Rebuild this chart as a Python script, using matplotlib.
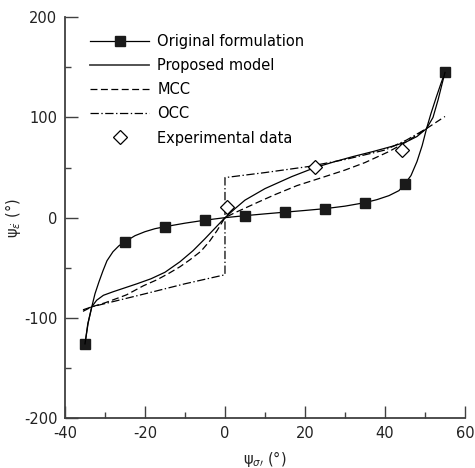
import matplotlib
matplotlib.use("Agg")
import matplotlib.pyplot as plt
from matplotlib.ticker import MultipleLocator

plt.rcParams['font.family'] = ['DejaVu Sans']
plt.rcParams['mathtext.fontset'] = 'dejavusans'
plt.rcParams['lines.scale_dashes'] = False
plt.rcParams['axes.unicode_minus'] = False

# Original formulation: computed points (markers) and its fitted curve
orig_x = [-35, -25, -15, -5, 5, 15, 25, 35, 45, 55]
orig_y = [-126, -24, -9, -2.5, 2, 5.5, 9, 15, 34, 145]
orig_curve_x = [-35, -34.2, -33.3, -32.5, -31.5, -30.5, -29.5, -28, -26.5, -25,
                -22.5, -20, -17.5, -15, -10, -5, 0, 5, 10, 15, 20, 25, 30, 35,
                38, 41, 43.5, 45, 46.5, 48, 49.3, 50.4, 51.5, 52.8, 54, 55]
orig_curve_y = [-126, -105, -89, -76, -64, -53, -43, -34, -28, -24,
                -18, -14, -11, -9, -5.5, -2.5, 0, 2, 3.8, 5.5, 7.2, 9, 11.5, 15,
                18, 22, 27, 34, 42, 56, 72, 89, 104, 120, 134, 145]

# Proposed model
prop_x = [-35, -34.3, -33.3, -32.1, -30.4, -28, -25, -22, -18.5, -15, -11.25,
          -8, -5, -2.5, 0, 2.5, 5, 10, 16.7, 22.5, 27.5, 32, 37, 42.5, 45.5,
          48, 50.4, 52, 53.3, 54.3, 55]
prop_y = [-126, -106, -89, -82.5, -77.5, -74, -70, -66, -61, -54.5, -44,
          -33, -21, -10.5, 0, 9, 17.5, 29, 41, 50, 56, 61, 66, 72, 76,
          81, 89, 100, 118, 134, 145]

# MCC
mcc_x = [-35.5, -33.3, -30, -26.25, -24.6, -20.4, -17, -14, -11.25, -8.75,
         -6, -3.75, -2, 0, 2.5, 5, 8, 12.5, 18, 25, 30, 35, 41, 45.5, 50.4, 55]
mcc_y = [-93.5, -89, -85, -79.5, -77, -68, -62, -55.5, -49, -42,
         -33.5, -23, -13, 0, 5, 9.5, 15, 23, 32, 41, 47.5, 55, 66, 76, 89, 101]

# OCC
occ_x = [-35.5, -33.3, -20, -10, 0, 0, 10, 20.8, 30, 40, 45.4, 50.4]
occ_y = [-92, -89, -76, -66, -57, 40, 45, 51, 58, 67.5, 77.5, 89]

# Experimental data
exp_x = [0.4, 22.5, 44.2]
exp_y = [11, 51, 67.5]

xticks = [-40, -20, 0, 20, 40, 60]
yticks = [-200, -100, 0, 100, 200]

fs = 10.5
fig = plt.figure(figsize=(4.75, 4.68), dpi=100)
ax = fig.add_axes([0.1368, 0.1068, 0.8421, 0.8562])

lw = 0.9
ax.plot(orig_curve_x, orig_curve_y, color='black', lw=lw)
ax.plot(orig_x, orig_y, ls='none', marker='s', ms=7, color='#1a1a1a')
ax.plot(prop_x, prop_y, color='black', lw=lw)
ax.plot(mcc_x, mcc_y, color='black', lw=lw, dashes=(5, 2.5))
ax.plot(occ_x, occ_y, color='black', lw=lw, dashes=(6, 1.8, 1, 1.8))
ax.plot(exp_x, exp_y, ls='none', marker='D', ms=7, mfc='white', mec='black', mew=0.9)

# legend proxies
h1, = ax.plot([], [], color='black', lw=lw, marker='s', ms=7, mfc='#1a1a1a', mec='#1a1a1a')
h2, = ax.plot([], [], color='#444444', lw=1.3)
h3, = ax.plot([], [], color='black', lw=lw, dashes=(5, 2.5))
h4, = ax.plot([], [], color='black', lw=lw, dashes=(6, 1.8, 1, 1.8))
h5, = ax.plot([], [], ls='none', marker='D', ms=7, mfc='white', mec='black', mew=0.9)
ax.legend([h1, h2, h3, h4, h5],
          ['Original formulation', 'Proposed model', 'MCC', 'OCC', 'Experimental data'],
          loc='upper left', bbox_to_anchor=(0.047, 0.972), frameon=False,
          fontsize=fs, handlelength=4.1, handletextpad=0.55, labelspacing=0.62,
          borderaxespad=0)

ax.set_xlim(-40, 60)
ax.set_ylim(-200, 200)
ax.set_xticks(xticks)
ax.set_yticks(yticks)
ax.xaxis.set_minor_locator(MultipleLocator(10))
ax.yaxis.set_minor_locator(MultipleLocator(50))
for s in ['top', 'right']:
    ax.spines[s].set_visible(False)
for s in ['left', 'bottom']:
    ax.spines[s].set_color('#404040')
    ax.spines[s].set_linewidth(1.3)
ax.tick_params(which='major', direction='in', length=9, width=1, color='#404040',
               labelsize=fs, labelcolor='#222222')
ax.tick_params(axis='x', which='major', pad=5.5)
ax.tick_params(axis='y', which='major', pad=5.5)
ax.tick_params(which='minor', direction='in', length=4.5, width=1, color='#404040')

ax.set_xlabel(r'$\mathrm{\psi}_{\sigma\prime}$ (°)', fontsize=fs, color='#222222')
ax.set_ylabel(r'$\mathrm{\psi}_{\dot{\varepsilon}}$ (°)', fontsize=fs, color='#222222')
ax.xaxis.set_label_coords(0.5, -0.077)
ax.yaxis.set_label_coords(-0.105, 0.5)

fig.savefig('out.png', dpi=100)
